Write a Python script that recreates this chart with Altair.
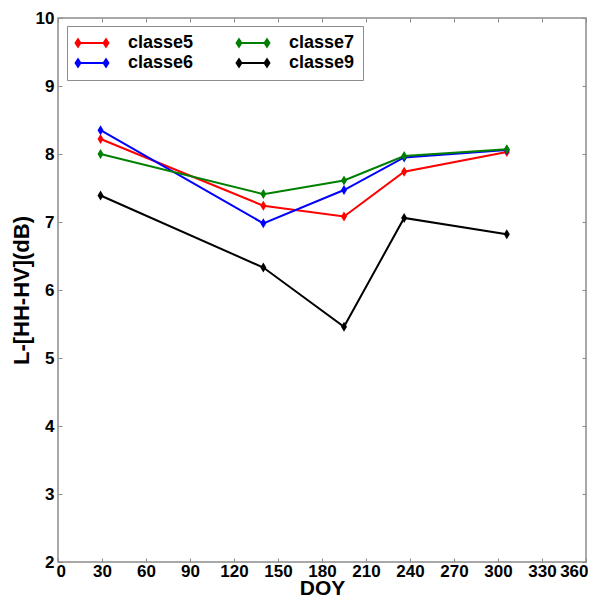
import altair as alt
import pandas as pd

doy = [29, 140, 195, 236, 306]
classe5 = [8.22, 7.24, 7.08, 7.74, 8.03]
classe6 = [8.35, 6.98, 7.47, 7.95, 8.06]
classe7 = [8.00, 7.41, 7.61, 7.97, 8.07]
classe9 = [7.39, 6.33, 5.46, 7.06, 6.82]
series_names = ["classe5", "classe6", "classe7", "classe9"]
series_colors = ["#ff0000", "#0000ff", "#008000", "#000000"]
x_ticks = list(range(0, 361, 30))
y_ticks = list(range(2, 11))

rows = []
for name, vals in zip(series_names, [classe5, classe6, classe7, classe9]):
    for d, v in zip(doy, vals):
        rows.append({"doy": d, "val": v, "serie": name})
df = pd.DataFrame(rows)

FONT = "Liberation Sans"
FRAME = "#8c8c8c"

xscale = alt.Scale(domain=[0, 360], nice=False, zero=False)
yscale = alt.Scale(domain=[2, 10], nice=False, zero=False)

common_axis = dict(grid=False, domain=False, tickSize=4, tickColor=FRAME, tickWidth=1,
                   offset=-4, labelFont=FONT, labelFontSize=17, labelFontWeight="bold",
                   labelColor="#000000", titleFont=FONT,
                   titleFontWeight="bold", titleColor="#000000")

bottom_axis = alt.Axis(orient="bottom", values=x_ticks, title="DOY", labelPadding=1,
                       labelFlush=True, labelFlushOffset=2, labelOverlap=False,
                       titleFontSize=21, titleBaseline="alphabetic", titleY=36, **common_axis)
left_axis = alt.Axis(orient="left", values=y_ticks, title="L-[HH-HV](dB)", labelPadding=4,
                     labelFlush=False, labelOverlap=False, titlePadding=2,
                     titleFontSize=22, **common_axis)
top_axis = alt.Axis(orient="top", values=x_ticks, labels=False, title=None, **common_axis)
right_axis = alt.Axis(orient="right", values=y_ticks, labels=False, title=None, **common_axis)

# symbol box is 16px (size 256); path unit = 8px; line spans 0..32px from box left
legend_path = ("M-1,0L3,0"
               "M-0.75,-0.45L-0.45,0L-0.75,0.45L-1.05,0Z"
               "M2.75,-0.45L3.05,0L2.75,0.45L2.45,0Z")

color_scale = alt.Scale(domain=series_names, range=series_colors)

lines = alt.Chart(df).mark_line(strokeWidth=2).encode(
    x=alt.X("doy:Q", scale=xscale, axis=bottom_axis),
    y=alt.Y("val:Q", scale=yscale, axis=left_axis),
    color=alt.Color("serie:N", scale=color_scale, legend=alt.Legend(
        title=None, orient="none", legendX=9, legendY=8, columns=2,
        symbolType=legend_path, symbolSize=256, symbolStrokeWidth=2,
        symbolFillColor={"expr": "scale('color', datum.value)"},
        labelFont=FONT, labelFontSize=18, labelFontWeight="bold", labelColor="#000000",
        labelOffset=35, columnPadding=38, rowPadding=2, padding=8,
        strokeColor=FRAME, fillColor="#ffffff")),
)

diamond = "M0,-1L0.6,0L0,1L-0.6,0Z"
points = alt.Chart(df).mark_point(shape=diamond, filled=True, size=100, opacity=1).encode(
    x=alt.X("doy:Q", scale=xscale, axis=top_axis),
    y=alt.Y("val:Q", scale=yscale, axis=right_axis),
    color=alt.Color("serie:N", scale=color_scale, legend=None),
)

chart = alt.layer(lines, points).resolve_axis(x="independent", y="independent").properties(
    width=528, height=544,
    autosize=alt.AutoSizeParams(type="none"),
    padding={"left": 50, "top": 10, "right": 2, "bottom": 36},
    background="#ffffff",
).configure_view(stroke=FRAME, strokeWidth=1.5)

chart.save("out.html", embed_options={"renderer": "svg", "actions": False})
